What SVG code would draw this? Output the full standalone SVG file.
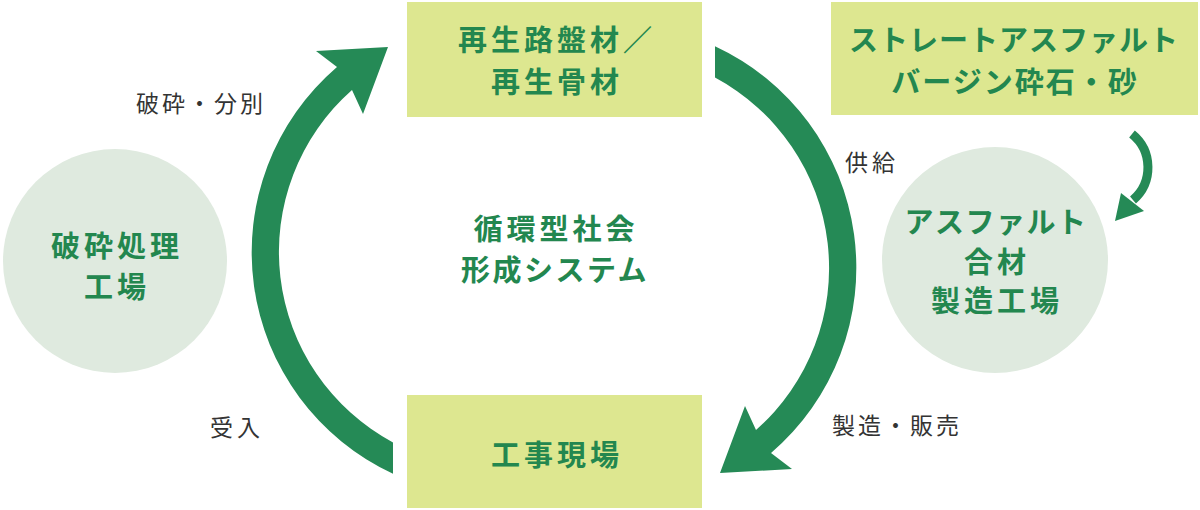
<svg xmlns="http://www.w3.org/2000/svg" width="1200" height="510" viewBox="0 0 1200 510">
<style>
.box{fill:#dde790}
.circ{fill:#dfeadf}
.big{font-family:"Noto Sans CJK JP","Noto Sans",sans-serif;font-weight:700;font-size:29px;fill:#23874f;text-anchor:middle}
.small{font-family:"Noto Sans CJK JP","Noto Sans",sans-serif;font-weight:400;font-size:23px;fill:#333333}
.arrow{fill:#258a56}
</style>
<rect width="1200" height="510" fill="#ffffff"/>
<g id="node-recycled">
<rect class="box" x="407" y="2" width="295" height="115"/>
<text class="big" x="557" y="51" letter-spacing="4">再生路盤材／</text>
<text class="big" x="557" y="93" letter-spacing="4">再生骨材</text>
</g>
<g id="node-virgin">
<rect class="box" x="831" y="2" width="367" height="113"/>
<text class="big" x="1014" y="51" letter-spacing="1">ストレートアスファルト</text>
<text class="big" x="1015" y="93" letter-spacing="2">バージン砕石・砂</text>
</g>
<g id="node-site">
<rect class="box" x="407" y="395" width="295" height="113"/>
<text class="big" x="557" y="466" letter-spacing="4">工事現場</text>
</g>
<g id="node-crush">
<circle class="circ" cx="115" cy="261" r="112"/>
<text class="big" x="117" y="257" letter-spacing="4">破砕処理</text>
<text class="big" x="117" y="298" letter-spacing="4">工場</text>
</g>
<g id="node-asphalt">
<circle class="circ" cx="995" cy="260" r="113"/>
<text class="big" x="996" y="233" letter-spacing="1.5">アスファルト</text>
<text class="big" x="997" y="273" letter-spacing="4">合材</text>
<text class="big" x="997" y="312" letter-spacing="4">製造工場</text>
</g>
<g id="node-center">
<text class="big" x="556" y="240" letter-spacing="4">循環型社会</text>
<text class="big" x="555" y="281" letter-spacing="2.5">形成システム</text>
</g>
<g id="connectors">
<path class="arrow" d="M393,442.4 L393,473.7 A244,244 0 0 1 337,67 L316,51 L388,47 L363,114 L352,90 A216,216 0 0 0 393,442.4 Z"/>
<path class="arrow" d="M715,77.6 L715,46.3 A244,244 0 0 1 771,453 L792,469 L720,473 L745,406 L756,430 A216,216 0 0 0 715,77.6 Z"/>
<path d="M1132,134 A43,43 0 0 1 1133,200" fill="none" stroke="#258a56" stroke-width="9"/>
<polygon class="arrow" points="1115,221 1121,193 1144,211"/>
<text class="small" x="136" y="112" letter-spacing="3">破砕・分別</text>
<text class="small" x="210" y="436" letter-spacing="4">受入</text>
<text class="small" x="845" y="171" letter-spacing="4">供給</text>
<text class="small" x="832" y="434" letter-spacing="3">製造・販売</text>
</g>
</svg>
